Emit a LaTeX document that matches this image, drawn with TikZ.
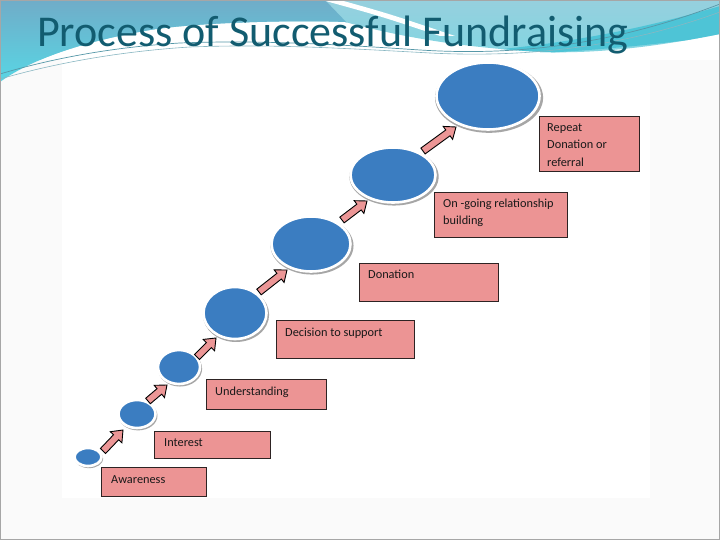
\documentclass[tikz,border=0pt]{standalone}
\usepackage{fontspec}
\setmainfont{Carlito}
\usetikzlibrary{shapes.geometric,calc,shadows}
\definecolor{titlecol}{RGB}{18,92,112}
\definecolor{slidebg}{RGB}{250,250,250}
\definecolor{tealtop}{RGB}{112,172,200}
\definecolor{tealbot}{RGB}{88,214,228}
\definecolor{lighttop}{RGB}{150,208,222}
\definecolor{lightbot}{RGB}{128,214,226}
\definecolor{cyanband}{RGB}{78,196,214}
\definecolor{swoosh}{RGB}{86,152,168}
\definecolor{boxfill}{RGB}{236,148,148}
\definecolor{boxline}{RGB}{45,35,35}
\definecolor{discblue}{RGB}{59,125,193}
\definecolor{arrowfill}{RGB}{236,150,150}
\definecolor{txt}{RGB}{25,25,25}
\tikzset{
  stepbox/.style={draw=boxline, fill=boxfill, line width=1.1pt, inner sep=0, anchor=north west},
  boxtext/.style={font=\fontsize{12.3}{17.5}\selectfont, text=txt, inner sep=0, anchor=base west, align=left},
  disc/.style={ellipse, fill=discblue, draw=white, line width=2.6pt, inner sep=0,
    general shadow={fill=black!35, shadow scale=1.05, shadow xshift=1pt, shadow yshift=-1.6pt}},
  blockarr/.style={fill=arrowfill, draw=black, line width=.9pt, line join=miter}
}
\newcommand\stepArrow[2]{%
  \coordinate (nb) at ($(#2)!10pt!(#1)$);
  \draw[blockarr] ($(#1)!3.6pt!90:(#2)$) -- ($(nb)!3.6pt!90:(#2)$) -- ($(nb)!8pt!90:(#2)$) -- (#2)
    -- ($(nb)!8pt!-90:(#2)$) -- ($(nb)!3.6pt!-90:(#2)$) -- ($(#1)!3.6pt!-90:(#2)$) -- cycle;}
\begin{document}
\begin{tikzpicture}[x=1pt,y=-1pt]
\useasboundingbox (0,0) rectangle (720,540);
% slide background
\fill[white] (0,0) rectangle (720,540);
\fill[slidebg] (0,60) rectangle (720,540);
\fill[white] (62,58) rectangle (650,498);
% header, clipped above the wave
\begin{scope}
\clip (0,0) -- (720,0) -- (720,34) .. controls (660,46) and (600,54) .. (540,52)
  .. controls (480,48) and (420,42) .. (345,22) .. controls (300,20) and (200,22) .. (150,30)
  .. controls (80,42) and (30,60) .. (0,82) -- cycle;
\shade[top color=lighttop, bottom color=lightbot] (0,0) rectangle (720,60);
\shade[top color=tealtop, bottom color=tealbot] (0,0) -- (325,0) -- (348,24) -- (150,30) -- (0,82) -- cycle;
\fill[white] (322,0) -- (340,0) .. controls (390,14) .. (455,36) -- (440,36) .. controls (380,16) .. (322,0) -- cycle;
\fill[cyanband] (430,54) .. controls (540,50) and (640,30) .. (720,6) -- (720,36)
  .. controls (660,44) and (560,56) .. (430,56) -- cycle;
\end{scope}
\draw[swoosh, line width=.7pt] (0,74) .. controls (40,62) and (100,48) .. (180,43) .. controls (260,40) and (330,44) .. (420,50) .. controls (500,55) and (600,50) .. (720,4);
\draw[swoosh!70, line width=.6pt] (0,79) .. controls (45,66) and (110,52) .. (190,47) .. controls (270,44) and (340,48) .. (430,53) .. controls (510,57) and (610,52) .. (720,12);
\draw[gray!70, line width=1pt] (0.5,0.5) rectangle (719.5,539.5);
% title
\node[font=\fontsize{44}{50}\selectfont, text=titlecol, inner sep=0, anchor=base west] (title) at (37,47) {Process of Successful Fundraising};
% discs
\node[disc, minimum width=27, minimum height=18] (e1) at (88,457) {};
\node[disc, minimum width=37, minimum height=28] (e2) at (137,414) {};
\node[disc, minimum width=42, minimum height=34] (e3) at (179,367) {};
\node[disc, minimum width=63, minimum height=52] (e4) at (235,313) {};
\node[disc, minimum width=79, minimum height=55] (e5) at (311,244) {};
\node[disc, minimum width=85, minimum height=55] (e6) at (393,175) {};
\node[disc, minimum width=103, minimum height=67] (e7) at (488,96) {};
% arrows
\coordinate (a1s) at (103,451); \coordinate (a1e) at (123,430);
\coordinate (a2s) at (148,401); \coordinate (a2e) at (167,385);
\coordinate (a3s) at (197,357); \coordinate (a3e) at (216,338);
\coordinate (a4s) at (259,292); \coordinate (a4e) at (287,270);
\coordinate (a5s) at (342,220); \coordinate (a5e) at (367,201);
\coordinate (a6s) at (423,151); \coordinate (a6e) at (456,127);
\stepArrow{a1s}{a1e}
\stepArrow{a2s}{a2e}
\stepArrow{a3s}{a3e}
\stepArrow{a4s}{a4e}
\stepArrow{a5s}{a5e}
\stepArrow{a6s}{a6e}
% boxes
\node[stepbox, minimum width=105, minimum height=29] (b1) at (101,467) {};
\node[stepbox, minimum width=116, minimum height=27] (b2) at (154,431) {};
\node[stepbox, minimum width=120, minimum height=30] (b3) at (206,379) {};
\node[stepbox, minimum width=138, minimum height=38] (b4) at (276,320) {};
\node[stepbox, minimum width=139, minimum height=38] (b5) at (359,263) {};
\node[stepbox, minimum width=133, minimum height=45] (b6) at (434,192) {};
\node[stepbox, minimum width=100, minimum height=55] (b7) at (539,116) {};
\node[boxtext] (t1) at ([xshift=10pt,yshift=-16pt]b1.north west) {Awareness};
\node[boxtext] (t2) at ([xshift=10pt,yshift=-15pt]b2.north west) {Interest};
\node[boxtext] (t3) at ([xshift=9pt,yshift=-16pt]b3.north west) {Understanding};
\node[boxtext] (t4) at ([xshift=9pt,yshift=-16pt]b4.north west) {Decision to support};
\node[boxtext] (t5) at ([xshift=9pt,yshift=-15pt]b5.north west) {Donation};
\node[boxtext] (t6) at ([xshift=9pt,yshift=-33pt]b6.north west) {On -going relationship\\building};
\node[boxtext] (t7) at ([xshift=8pt,yshift=-50.5pt]b7.north west) {Repeat\\Donation or\\referral};
\end{tikzpicture}
\end{document}
